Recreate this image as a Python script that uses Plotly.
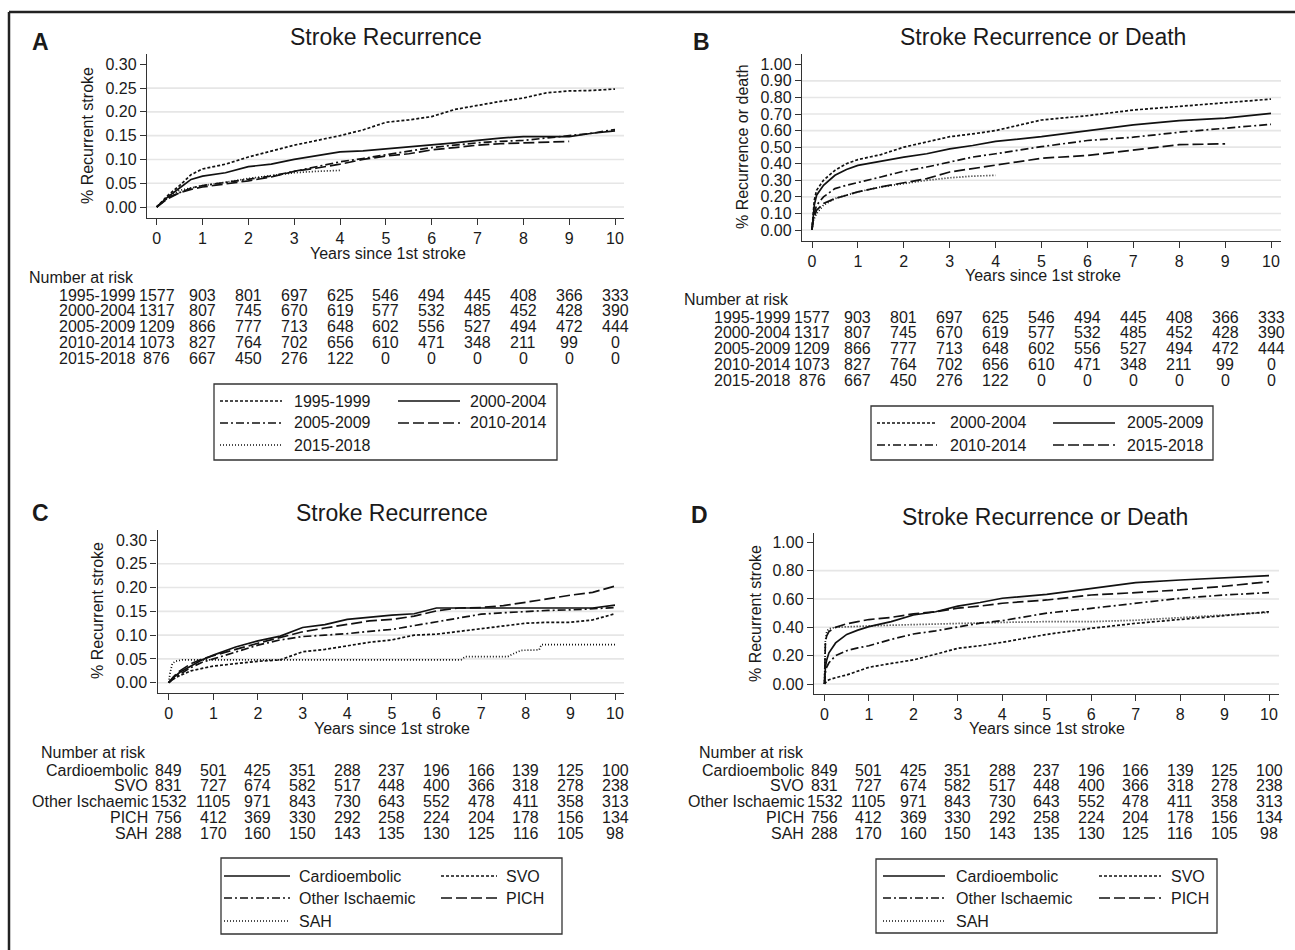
import plotly.graph_objects as go

W, H = 1295, 950
FONT = "Liberation Sans, Arial, Helvetica, sans-serif"
INK = "#1a1a1a"
GRID = "#e6e6e6"

YEARS = list(range(11))

# ---------------- data ----------------
PERIODS = ["1995-1999", "2000-2004", "2005-2009", "2010-2014", "2015-2018"]
TYPES = ["Cardioembolic", "SVO", "Other Ischaemic", "PICH", "SAH"]

RISK_1995 = [1577, 903, 801, 697, 625, 546, 494, 445, 408, 366, 333]
RISK_2000 = [1317, 807, 745, 670, 619, 577, 532, 485, 452, 428, 390]
RISK_2005 = [1209, 866, 777, 713, 648, 602, 556, 527, 494, 472, 444]
RISK_2010 = [1073, 827, 764, 702, 656, 610, 471, 348, 211, 99, 0]
RISK_2015 = [876, 667, 450, 276, 122, 0, 0, 0, 0, 0, 0]

RISK_CE = [849, 501, 425, 351, 288, 237, 196, 166, 139, 125, 100]
RISK_SVO = [831, 727, 674, 582, 517, 448, 400, 366, 318, 278, 238]
RISK_OI = [1532, 1105, 971, 843, 730, 643, 552, 478, 411, 358, 313]
RISK_PICH = [756, 412, 369, 330, 292, 258, 224, 204, 178, 156, 134]
RISK_SAH = [288, 170, 160, 150, 143, 135, 130, 125, 116, 105, 98]

# Panel A: stroke recurrence by period
A_T = [0, 0.25, 0.5, 0.75, 1, 1.5, 2, 2.5, 3, 3.5, 4, 4.5, 5, 5.5, 6, 6.5, 7, 7.5, 8, 8.5, 9, 9.5, 10]
A_1995 = [0, 0.025, 0.045, 0.068, 0.08, 0.09, 0.105, 0.118, 0.13, 0.14, 0.15, 0.162, 0.178, 0.183, 0.19, 0.205, 0.214, 0.222, 0.229, 0.24, 0.244, 0.245, 0.248]
A_2000 = [0, 0.022, 0.04, 0.058, 0.065, 0.072, 0.085, 0.09, 0.10, 0.108, 0.116, 0.118, 0.122, 0.126, 0.13, 0.135, 0.14, 0.145, 0.148, 0.148, 0.148, 0.155, 0.16]
A_2005 = [0, 0.02, 0.03, 0.04, 0.045, 0.052, 0.058, 0.065, 0.075, 0.085, 0.095, 0.102, 0.11, 0.118, 0.125, 0.13, 0.135, 0.138, 0.14, 0.145, 0.15, 0.155, 0.163]
A_2010 = [0, 0.018, 0.03, 0.037, 0.042, 0.048, 0.055, 0.063, 0.075, 0.082, 0.09, 0.1, 0.107, 0.112, 0.12, 0.125, 0.13, 0.133, 0.135, 0.137, 0.138]
A_2015 = [0, 0.02, 0.035, 0.04, 0.045, 0.052, 0.06, 0.066, 0.072, 0.075, 0.077]

# Panel B: stroke recurrence or death by period
B_T = [0, 0.02, 0.05, 0.1, 0.25, 0.5, 0.75, 1, 1.5, 2, 2.5, 3, 3.5, 4, 5, 6, 7, 8, 9, 10]
B_S1 = [0, 0.1, 0.18, 0.24, 0.3, 0.36, 0.4, 0.425, 0.455, 0.5, 0.53, 0.563, 0.58, 0.60, 0.664, 0.69, 0.724, 0.745, 0.77, 0.79]
B_S2 = [0, 0.08, 0.15, 0.21, 0.27, 0.33, 0.365, 0.39, 0.415, 0.44, 0.46, 0.49, 0.51, 0.535, 0.563, 0.60, 0.634, 0.66, 0.675, 0.704]
B_S3 = [0, 0.06, 0.1, 0.15, 0.2, 0.25, 0.27, 0.286, 0.32, 0.355, 0.38, 0.41, 0.44, 0.46, 0.503, 0.54, 0.56, 0.59, 0.615, 0.638]
B_S4 = [0, 0.05, 0.08, 0.12, 0.16, 0.19, 0.21, 0.23, 0.26, 0.285, 0.31, 0.35, 0.37, 0.39, 0.433, 0.45, 0.483, 0.515, 0.52]
B_S5 = [0, 0.05, 0.07, 0.1, 0.15, 0.19, 0.21, 0.23, 0.26, 0.28, 0.3, 0.315, 0.325, 0.33]
B_LEGEND = ["2000-2004", "2005-2009", "2010-2014", "2015-2018"]

# Panel C: stroke recurrence by type
C_T = [0, 0.1, 0.25, 0.5, 0.75, 1, 1.5, 2, 2.5, 3, 3.5, 4, 4.5, 5, 5.5, 6, 6.5, 7, 7.5, 8, 8.5, 9, 9.5, 10]
C_CE = [0, 0.01, 0.022, 0.035, 0.048, 0.058, 0.075, 0.088, 0.098, 0.116, 0.122, 0.133, 0.138, 0.142, 0.145, 0.157, 0.157, 0.157, 0.157, 0.157, 0.157, 0.157, 0.157, 0.163]
C_SVO = [0, 0.008, 0.015, 0.025, 0.03, 0.035, 0.04, 0.045, 0.048, 0.065, 0.07, 0.078, 0.085, 0.09, 0.1, 0.102, 0.108, 0.114, 0.12, 0.125, 0.127, 0.127, 0.132, 0.145]
C_OI = [0, 0.008, 0.018, 0.032, 0.043, 0.05, 0.065, 0.079, 0.09, 0.097, 0.1, 0.103, 0.108, 0.112, 0.12, 0.128, 0.137, 0.144, 0.147, 0.15, 0.152, 0.153, 0.155, 0.158]
C_PICH = [0, 0.012, 0.025, 0.04, 0.05, 0.057, 0.07, 0.083, 0.095, 0.107, 0.115, 0.123, 0.13, 0.133, 0.14, 0.151, 0.157, 0.158, 0.162, 0.169, 0.177, 0.184, 0.19, 0.203]
C_SAH_T = [0, 0.03, 0.08, 0.15, 0.3, 6.55, 6.65, 7.6, 7.7, 7.9, 8.3, 8.35, 10]
C_SAH = [0, 0.02, 0.04, 0.045, 0.048, 0.048, 0.055, 0.055, 0.06, 0.068, 0.069, 0.08, 0.08]

# Panel D: stroke recurrence or death by type
D_T = [0, 0.02, 0.05, 0.1, 0.25, 0.5, 0.75, 1, 1.5, 2, 2.5, 3, 3.5, 4, 5, 6, 7, 8, 9, 10]
D_CE = [0, 0.12, 0.17, 0.22, 0.29, 0.35, 0.38, 0.405, 0.44, 0.487, 0.51, 0.55, 0.575, 0.605, 0.633, 0.675, 0.715, 0.734, 0.75, 0.765]
D_SVO = [0, 0.01, 0.02, 0.03, 0.045, 0.064, 0.09, 0.118, 0.145, 0.17, 0.21, 0.252, 0.27, 0.294, 0.35, 0.393, 0.428, 0.456, 0.48, 0.51]
D_OI = [0, 0.08, 0.12, 0.15, 0.2, 0.235, 0.255, 0.27, 0.315, 0.353, 0.375, 0.405, 0.43, 0.447, 0.5, 0.534, 0.57, 0.605, 0.628, 0.645]
D_PICH = [0, 0.3, 0.34, 0.37, 0.4, 0.425, 0.44, 0.455, 0.47, 0.495, 0.51, 0.535, 0.55, 0.57, 0.593, 0.628, 0.645, 0.664, 0.69, 0.722]
D_SAH = [0, 0.3, 0.37, 0.39, 0.4, 0.405, 0.408, 0.41, 0.415, 0.42, 0.425, 0.428, 0.43, 0.435, 0.44, 0.44, 0.45, 0.47, 0.49, 0.505]

A_TICKS = [0, 0.05, 0.10, 0.15, 0.20, 0.25, 0.30]
B_TICKS = [0, 0.1, 0.2, 0.3, 0.4, 0.5, 0.6, 0.7, 0.8, 0.9, 1.0]
D_TICKS = [0, 0.2, 0.4, 0.6, 0.8, 1.0]

# ---------------- styles ----------------
DASH = {"sdash": "3px,2px", "solid": "solid", "dashdot": "8px,3px,2px,3px",
        "ldash": "11px,4px", "dot": "1px,2px"}
PERIOD_STYLE = ["sdash", "solid", "dashdot", "ldash", "dot"]
TYPE_STYLE = ["solid", "sdash", "dashdot", "ldash", "dot"]

fig = go.Figure()
shapes, annos = [], []


def px(x):
    return x / W


def py(y):
    return 1 - y / H


def txt(x, y, s, size=16, xanchor="left", bold=False, **kw):
    annos.append(dict(x=px(x), y=py(y), xref="paper", yref="paper", text=s,
                      showarrow=False, xanchor=xanchor, yanchor="middle",
                      font=dict(family=FONT, size=size, color=INK,
                                weight="bold" if bold else "normal"), **kw))


def add_panel(n, g, series, ticks, letter, title, ytitle, risk_labels, risk_rows,
              legend_items):
    xa, ya = ("x", "y") if n == 1 else (f"x{n}", f"y{n}")
    xkey, ykey = ("xaxis", "yaxis") if n == 1 else (f"xaxis{n}", f"yaxis{n}")
    ppx = (g["x10"] - g["x0"]) / 10.0
    xr = [(g["left"] - g["x0"]) / ppx, (g["right"] - g["x0"]) / ppx]
    ytop = ticks[-1]
    ppy = (g["y0"] - g["yt"]) / ytop
    yr = [-(g["bottom"] - g["y0"]) / ppy, ytop + (g["yt"] - g["top"]) / ppy]
    fig.update_layout({
        xkey: dict(domain=[px(g["left"]), px(g["right"])], range=xr, anchor=ya,
                   tickvals=YEARS, showline=True, linecolor="#333", linewidth=1.4,
                   ticks="outside", ticklen=6, tickwidth=1.3, tickcolor="#333",
                   showgrid=False, zeroline=False, fixedrange=True,
                   tickfont=dict(family=FONT, size=16, color=INK)),
        ykey: dict(domain=[py(g["bottom"]), py(g["top"])], range=yr, anchor=xa,
                   tickvals=ticks, tickformat=".2f", showline=True, linecolor="#333",
                   linewidth=1.4, ticks="outside", ticklen=6, tickwidth=1.3,
                   tickcolor="#333", showgrid=False, zeroline=False, fixedrange=True,
                   tickfont=dict(family=FONT, size=16, color=INK)),
    })
    for v in ticks[:-1]:
        shapes.append(dict(type="line", xref=f"{xa} domain", yref=ya, x0=0, x1=1,
                           y0=v, y1=v, line=dict(color=GRID, width=1.6), layer="below"))
    for t, v, st in series:
        fig.add_trace(go.Scatter(x=t, y=v, xaxis=xa, yaxis=ya, mode="lines",
                                 line=dict(color="#111", width=1.7, dash=DASH[st]),
                                 showlegend=False, hoverinfo="skip"))
    # texts
    txt(g["letter"][0], g["letter"][1], letter, size=23, xanchor="center", bold=True)
    txt(g["title"][0], g["title"][1], title, size=23, xanchor="center")
    txt(g["ytitle"][0], g["ytitle"][1], ytitle, size=16, xanchor="center", textangle=-90)
    txt(g["xtitle"][0], g["xtitle"][1], "Years since 1st stroke", size=16, xanchor="center")
    txt(g["nar"][0], g["nar"][1], "Number at risk", size=16)
    for i, (lab, row) in enumerate(zip(risk_labels, risk_rows)):
        yy = py(g["row0"] + i * g["rowstep"])
        annos.append(dict(x=0, y=yy, xref=xa, yref="paper", text=lab, showarrow=False,
                          xanchor="right", yanchor="middle", xshift=-19,
                          font=dict(family=FONT, size=16, color=INK)))
        for yv, val in zip(YEARS, row):
            annos.append(dict(x=yv, y=yy, xref=xa, yref="paper", text=str(val),
                              showarrow=False, xanchor="center", yanchor="middle",
                              font=dict(family=FONT, size=16, color=INK)))
    # legend box
    lb = g["legend"]
    shapes.append(dict(type="rect", xref="paper", yref="paper", x0=px(lb["x0"]),
                       x1=px(lb["x1"]), y0=py(lb["y1"]), y1=py(lb["y0"]),
                       line=dict(color="#333", width=1.3), fillcolor="white"))
    for k, (lab, st) in enumerate(legend_items):
        r, c = divmod(k, 2)
        yy = lb["rows"][r]
        lx0, lx1, tx = lb["cols"][c]
        shapes.append(dict(type="line", xref="paper", yref="paper", x0=px(lx0),
                           x1=px(lx1), y0=py(yy), y1=py(yy),
                           line=dict(color="#111", width=1.6, dash=DASH[st])))
        txt(tx, yy, lab, size=16)


GEOM_A = dict(left=147, right=624, top=54, bottom=218, x0=156.7, x10=615, yt=64.3, y0=207,
              letter=(40, 42), title=(386, 37), ytitle=(87, 136), xtitle=(388, 253),
              nar=(27, 277), row0=295, rowstep=15.9,
              legend=dict(x0=214, x1=557, y0=384, y1=460, rows=[401, 423, 445],
                          cols=[(220, 282, 292), (398, 460, 468)]))
GEOM_B = dict(left=802, right=1281, top=54, bottom=241, x0=812, x10=1271, yt=64.3, y0=230,
              letter=(701, 42), title=(1043, 37), ytitle=(742, 147), xtitle=(1043, 275),
              nar=(682, 299), row0=317, rowstep=15.9,
              legend=dict(x0=871, x1=1213, y0=406, y1=460, rows=[423, 445],
                          cols=[(877, 937, 948), (1053, 1115, 1125)]))
GEOM_C = dict(left=157.5, right=624, top=530, bottom=693, x0=168.7, x10=615, yt=540, y0=682.7,
              letter=(40, 513), title=(392, 513), ytitle=(97, 611), xtitle=(392, 728),
              nar=(39, 752), row0=770, rowstep=15.9,
              legend=dict(x0=221, x1=562, y0=858, y1=934, rows=[876, 898, 921],
                          cols=[(224, 290, 297), (441, 497, 504)]))
GEOM_D = dict(left=814, right=1279, top=533, bottom=694, x0=824.5, x10=1269, yt=542.3, y0=684,
              letter=(699, 515), title=(1045, 517), ytitle=(755, 613), xtitle=(1047, 728),
              nar=(697, 752), row0=770, rowstep=15.9,
              legend=dict(x0=876, x1=1217, y0=859, y1=933, rows=[876, 898, 921],
                          cols=[(883, 945, 954), (1099, 1161, 1169)]))

RISK_PERIOD = [RISK_1995, RISK_2000, RISK_2005, RISK_2010, RISK_2015]
RISK_TYPE = [RISK_CE, RISK_SVO, RISK_OI, RISK_PICH, RISK_SAH]

A_T_2010 = A_T[:21]
A_T_2015 = A_T[:11]
add_panel(1, GEOM_A,
          [(A_T, A_1995, "sdash"), (A_T, A_2000, "solid"), (A_T, A_2005, "dashdot"),
           (A_T_2010, A_2010, "ldash"), (A_T_2015, A_2015, "dot")],
          A_TICKS, "A", "Stroke Recurrence", "% Recurrent stroke", PERIODS, RISK_PERIOD,
          list(zip(PERIODS, PERIOD_STYLE)))

add_panel(2, GEOM_B,
          [(B_T, B_S1, "sdash"), (B_T, B_S2, "solid"), (B_T, B_S3, "dashdot"),
           (B_T[:19], B_S4, "ldash"), (B_T[:14], B_S5, "dot")],
          B_TICKS, "B", "Stroke Recurrence or Death", "% Recurrence or death", PERIODS,
          RISK_PERIOD, list(zip(B_LEGEND, PERIOD_STYLE[:4])))

add_panel(3, GEOM_C,
          [(C_T, C_CE, "solid"), (C_T, C_SVO, "sdash"), (C_T, C_OI, "dashdot"),
           (C_T, C_PICH, "ldash"), (C_SAH_T, C_SAH, "dot")],
          A_TICKS, "C", "Stroke Recurrence", "% Recurrent stroke", TYPES, RISK_TYPE,
          list(zip(TYPES, TYPE_STYLE)))

add_panel(4, GEOM_D,
          [(D_T, D_CE, "solid"), (D_T, D_SVO, "sdash"), (D_T, D_OI, "dashdot"),
           (D_T, D_PICH, "ldash"), (D_T, D_SAH, "dot")],
          D_TICKS, "D", "Stroke Recurrence or Death", "% Recurrent stroke", TYPES, RISK_TYPE,
          list(zip(TYPES, TYPE_STYLE)))

# outer frame (top and left edges)
shapes.append(dict(type="line", xref="paper", yref="paper", x0=px(9), x1=1.0,
                   y0=py(12), y1=py(12), line=dict(color="#222", width=2.5)))
shapes.append(dict(type="line", xref="paper", yref="paper", x0=px(9), x1=px(9),
                   y0=py(12), y1=0, line=dict(color="#222", width=2.5)))

fig.update_layout(width=W, height=H, margin=dict(l=0, r=0, t=0, b=0),
                  paper_bgcolor="white", plot_bgcolor="white", showlegend=False,
                  shapes=shapes, annotations=annos,
                  font=dict(family=FONT, size=16, color=INK))

fig.write_html("out.html", config={"displayModeBar": False},
               post_script="document.body.style.margin='0';document.body.style.overflow='hidden';")
